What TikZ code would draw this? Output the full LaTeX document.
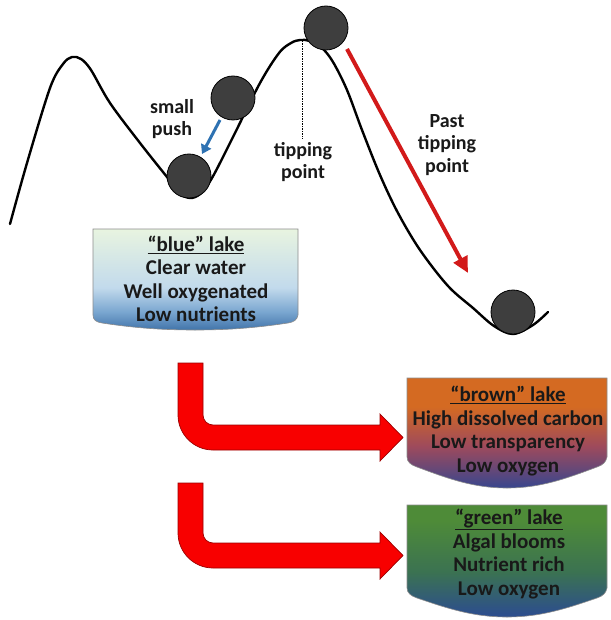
\documentclass[tikz,border=0pt]{standalone}
\usepackage{fontspec}
\setmainfont{Carlito}
\usetikzlibrary{arrows.meta}
\definecolor{bB}{HTML}{4174AA}
\definecolor{bM1}{HTML}{7AA6D0}
\definecolor{bM2}{HTML}{C2DAEC}
\definecolor{bT}{HTML}{E8F4E0}
\definecolor{brB}{HTML}{38468E}
\definecolor{brM}{HTML}{9E4A5C}
\definecolor{brT}{HTML}{D46A22}
\definecolor{gB}{HTML}{2C4C90}
\definecolor{gM}{HTML}{3B7252}
\definecolor{gT}{HTML}{4E8B38}
\definecolor{arrowRed}{HTML}{F80000}
\definecolor{arrowEdge}{HTML}{9A0000}
\definecolor{lineRed}{HTML}{D21A1A}
\definecolor{pushBlue}{HTML}{2E72B2}
\definecolor{ballGray}{HTML}{3E3E3E}
\pgfdeclareverticalshading{blueLake}{100bp}{color(0bp)=(bB); color(25bp)=(bB); color(34bp)=(bM1); color(46bp)=(bM2); color(75bp)=(bT); color(100bp)=(bT)}
\pgfdeclareverticalshading{brownLake}{100bp}{color(0bp)=(brB); color(25bp)=(brB); color(44bp)=(brM); color(62bp)=(brT); color(100bp)=(brT)}
\pgfdeclareverticalshading{greenLake}{100bp}{color(0bp)=(gB); color(25bp)=(gB); color(45bp)=(gM); color(68bp)=(gT); color(100bp)=(gT)}
\tikzset{
  ballnode/.style={circle, minimum size=44pt, inner sep=0pt, fill=ballGray, draw=black, line width=0.8pt},
  labeltext/.style={font=\bfseries\fontsize{20}{22.5}\selectfont, align=center, text=black!90, inner sep=0pt},
  laketext/.style={font=\bfseries\fontsize{21}{23.5}\selectfont, align=center, text=black!90, inner sep=0pt},
  lakeedge/.style={draw=black!45, line width=0.6pt},
  bentarrow/.style={fill=arrowRed, draw=arrowEdge, line width=0.7pt, line join=miter},
}
\begin{document}
\begin{tikzpicture}[x=1pt,y=-1pt]
\useasboundingbox (0,0) rectangle (610,620);

% landscape curve
\draw[line width=2.4pt, line join=round, line cap=round] plot[smooth, tension=0.55] coordinates {
 (10,224) (27,163) (50,88) (63,64) (72,57) (81,59) (91,70) (110,103) (140,143) (167,177) (180,193) (190,198) (200,194) (212,178) (233,137) (260,83) (279,53) (291,43) (300,40) (310,41) (322,48) (333,62) (347,90) (362,130) (380,175) (398,213) (420,250) (448,286) (473,308) (494,326) (513,334) (533,325) (548,312)};

% tipping point line
\coordinate (tipTop) at (302,41);
\coordinate (tipBot) at (302,139);
\draw[line width=0.6pt, dash pattern=on 1.5pt off 1pt] (tipTop) -- (tipBot);

% balls
\node[ballnode] (ballTop) at (326,28) {};
\node[ballnode] (ballMid) at (233,98) {};
\node[ballnode] (ballLow) at (189,176) {};
\node[ballnode] (ballEnd) at (513,312) {};

% labels
\node[labeltext] (pushLbl) at (172,119) {small\\push};
\node[labeltext] (tipLbl) at (303,162) {tipping\\point};
\node[labeltext] (pastLbl) at (447,145) {Past\\tipping\\point};

% small push arrow
\coordinate (pushStart) at (220,120);
\coordinate (pushEnd) at (202,154);
\draw[pushBlue, line width=3pt, -{Triangle[length=9pt,width=11pt]}] (pushStart) -- (pushEnd);

% past tipping point arrow
\coordinate (pastStart) at (347,49);
\coordinate (pastEnd) at (468,273);
\draw[lineRed, line width=4pt, -{Triangle[length=16pt,width=15pt]}] (pastStart) -- (pastEnd);

% blue lake
\shade[shading=blueLake, lakeedge] (93,229) -- (298,229) -- (298,315)
  .. controls (297,320) and (294,322) .. (288,323)
  .. controls (255,328) and (228,330) .. (195,330)
  .. controls (162,330) and (135,328) .. (102,323)
  .. controls (96,322) and (93,320) .. (93,315) -- cycle;
\node[laketext] (blueTxt) at (196,279) {\underline{“blue” lake}\\Clear water\\Well oxygenated\\Low nutrients};

% brown lake
\shade[shading=brownLake, lakeedge] (407,378) -- (607,378) -- (607,457)
  .. controls (606,462) and (603,465) .. (597,467)
  .. controls (565,479) and (540,488) .. (507,488)
  .. controls (474,488) and (449,479) .. (417,467)
  .. controls (411,465) and (407,462) .. (407,457) -- cycle;
\node[laketext] (brownTxt) at (508,431) {\underline{“brown” lake}\\High dissolved carbon\\Low transparency\\Low oxygen};

% green lake
\shade[shading=greenLake, lakeedge] (407,505) -- (607,505) -- (607,588)
  .. controls (606,593) and (603,596) .. (597,598)
  .. controls (565,609) and (540,617) .. (507,617)
  .. controls (474,617) and (449,609) .. (417,598)
  .. controls (411,596) and (407,593) .. (407,588) -- cycle;
\node[laketext] (greenTxt) at (509,554) {\underline{“green” lake}\\Algal blooms\\Nutrient rich\\Low oxygen};

% bent arrows
\draw[bentarrow] (178,363) -- (203,363) -- (203,415)
  .. controls (203,420.5) and (207.5,425) .. (213,425)
  -- (380,425) -- (380,414) -- (403,437.5) -- (380,461) -- (380,450) -- (213,450)
  .. controls (193.7,450) and (178,434.3) .. (178,415) -- cycle;
\draw[bentarrow] (178,483) -- (203,483) -- (203,533)
  .. controls (203,538.5) and (207.5,543) .. (213,543)
  -- (380,543) -- (380,532) -- (403,555.5) -- (380,579) -- (380,568) -- (213,568)
  .. controls (193.7,568) and (178,552.3) .. (178,533) -- cycle;
\end{tikzpicture}
\end{document}
